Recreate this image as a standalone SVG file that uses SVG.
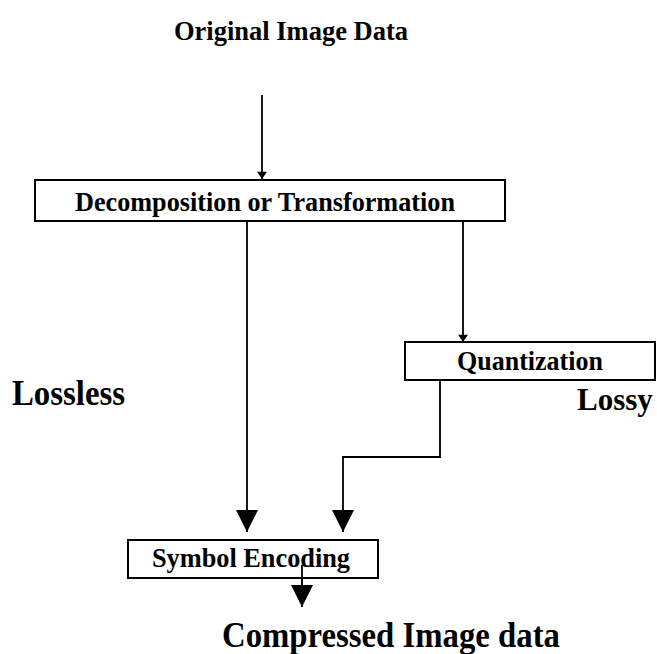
<svg xmlns="http://www.w3.org/2000/svg" width="657" height="654" viewBox="0 0 657 654">
  <style>
    .box { fill: #ffffff; stroke: #000000; stroke-width: 2; }
    .wire { fill: none; stroke: #000000; stroke-width: 1.8; }
    .label { font-family: "Liberation Serif", "Times New Roman", serif; font-weight: bold; fill: #000000; }
    .node-text { font-size: 28px; text-anchor: middle; }
    .big-text { font-size: 35px; }
  </style>
  <defs>
    <marker id="head-small" viewBox="0 0 10 14" refX="10" refY="7" markerWidth="14" markerHeight="10" markerUnits="userSpaceOnUse" orient="auto">
      <path d="M0,0 L10,7 L0,14 Z" fill="#000000"/>
    </marker>
    <marker id="head-big" viewBox="0 0 22 22" refX="22" refY="11" markerWidth="22" markerHeight="22" markerUnits="userSpaceOnUse" orient="auto">
      <path d="M0,0 L22,11 L0,22 Z" fill="#000000"/>
    </marker>
  </defs>

  <rect width="657" height="654" fill="#ffffff"/>

  <!-- free-standing labels (condensed bold serif) -->
  <text class="label" x="291" y="40" font-size="28" text-anchor="middle" textLength="234" lengthAdjust="spacingAndGlyphs">Original Image Data</text>
  <text class="label big-text" x="12" y="405" textLength="113" lengthAdjust="spacingAndGlyphs">Lossless</text>
  <text class="label" x="577" y="410" font-size="31">Lossy</text>
  <text class="label big-text" x="391" y="647" text-anchor="middle" textLength="338" lengthAdjust="spacingAndGlyphs">Compressed Image data</text>

  <!-- connectors -->
  <g id="connectors">
    <line class="wire" x1="262" y1="95" x2="262" y2="179" marker-end="url(#head-small)"/>
    <line class="wire" x1="463" y1="221" x2="463" y2="342" marker-end="url(#head-small)"/>
    <line class="wire" x1="247" y1="221" x2="247" y2="532" marker-end="url(#head-big)"/>
    <polyline class="wire" points="440,380 440,457 343,457 343,532" marker-end="url(#head-big)"/>
    <line class="wire" x1="302" y1="565" x2="302" y2="607" marker-end="url(#head-big)"/>
  </g>

  <!-- nodes -->
  <g id="decomposition">
    <rect class="box" x="35" y="180" width="470" height="41"/>
    <text class="label node-text" x="265" y="211" textLength="380" lengthAdjust="spacingAndGlyphs">Decomposition or Transformation</text>
  </g>

  <g id="quantization">
    <rect class="box" x="405" y="342" width="250" height="38"/>
    <text class="label node-text" x="530" y="370" textLength="146" lengthAdjust="spacingAndGlyphs">Quantization</text>
  </g>

  <g id="symbol-encoding">
    <rect class="box" x="128" y="540" width="250" height="38"/>
    <text class="label node-text" x="251" y="567" textLength="198" lengthAdjust="spacingAndGlyphs">Symbol Encoding</text>
  </g>

  <!-- arrow stub drawn over the encoding box -->
  <line class="wire" x1="302" y1="565" x2="302" y2="590"/>
</svg>
